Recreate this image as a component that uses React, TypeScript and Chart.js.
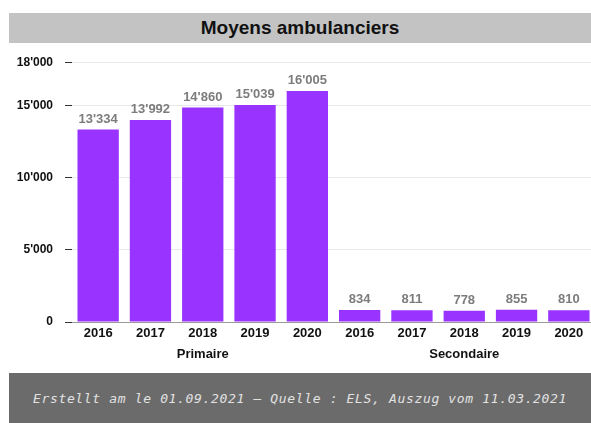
import React, { useEffect, useRef } from 'react';
import { Chart, registerables } from 'chart.js';

Chart.register(...registerables);

const title = 'Moyens ambulanciers';
const footerText = 'Erstellt am le 01.09.2021 – Quelle : ELS, Auszug vom 11.03.2021';
const categories = ['2016', '2017', '2018', '2019', '2020', '2016', '2017', '2018', '2019', '2020'];
const groupLabels = ['', '', 'Primaire', '', '', '', '', 'Secondaire', '', ''];
const values = [13334, 13992, 14860, 15039, 16005, 834, 811, 778, 855, 810];
const yTicks = [0, 5000, 10000, 15000, 18000];

const fmt = (n: number) => String(n).replace(/\B(?=(\d{3})+(?!\d))/g, "'");

const FONT = '"Liberation Sans", Arial, sans-serif';

const dataLabelPlugin = {
  id: 'dataLabels',
  afterDatasetsDraw(chart: any) {
    const ctx = chart.ctx;
    const meta = chart.getDatasetMeta(0);
    ctx.save();
    ctx.font = `bold 13px ${FONT}`;
    ctx.fillStyle = '#7c7c7c';
    ctx.textAlign = 'center';
    ctx.textBaseline = 'bottom';
    meta.data.forEach((bar: any, i: number) => {
      ctx.fillText(fmt(values[i]), bar.x, bar.y - 4);
    });
    ctx.restore();
  },
};

export default function App() {
  const ref = useRef<HTMLCanvasElement>(null);

  useEffect(() => {
    document.documentElement.style.overflow = 'hidden';
    document.body.style.overflow = 'hidden';
    if (!ref.current) return;
    const chart = new Chart(ref.current, {
      type: 'bar',
      data: {
        labels: categories,
        datasets: [
          {
            data: values,
            backgroundColor: '#9933ff',
            barPercentage: 0.79,
            categoryPercentage: 1,
          },
        ],
      },
      options: {
        responsive: false,
        animation: false,
        layout: { padding: { top: 19, left: 0, right: 0, bottom: 0 } },
        plugins: {
          legend: { display: false },
          tooltip: { enabled: false },
          title: { display: false },
        },
        scales: {
          x: {
            type: 'category',
            position: 'bottom',
            grid: { display: false, drawTicks: false, tickLength: 0 },
            border: { display: true, color: '#9a9a9a', width: 1 },
            ticks: {
              color: '#111',
              font: { family: FONT, size: 13, weight: 'bold' },
              padding: 4,
              maxRotation: 0,
              autoSkip: false,
            },
            afterFit: (s: any) => {
              s.height = 20;
            },
          },
          x2: {
            type: 'category',
            position: 'bottom',
            labels: groupLabels,
            grid: { display: false, drawTicks: false, tickLength: 0 },
            border: { display: false },
            ticks: {
              color: '#111',
              font: { family: FONT, size: 13, weight: 'bold' },
              padding: 5,
              maxRotation: 0,
              autoSkip: false,
            },
            afterFit: (s: any) => {
              s.height = 31;
            },
          },
          y: {
            min: 0,
            max: 18000,
            afterBuildTicks: (s: any) => {
              s.ticks = yTicks.map((v) => ({ value: v }));
            },
            afterFit: (s: any) => {
              s.width = 63;
            },
            border: { display: false },
            grid: {
              color: '#e8e8e8',
              tickColor: '#333',
              tickLength: 7,
              drawTicks: true,
            },
            ticks: {
              color: '#111',
              font: { family: FONT, size: 12, weight: 'bold' },
              padding: 12,
              callback: (v: any) => fmt(Number(v)),
            },
          },
        },
      },
      plugins: [dataLabelPlugin],
    } as any);
    return () => chart.destroy();
  }, []);

  return (
    <div
      style={{
        position: 'absolute',
        left: 9,
        top: 13,
        width: 582,
        height: 410,
        overflow: 'hidden',
      }}
    >
      <div
        style={{
          height: 30,
          background: '#c3c3c3',
          display: 'flex',
          alignItems: 'center',
          justifyContent: 'center',
          fontFamily: FONT,
          fontWeight: 'bold',
          fontSize: 19,
          color: '#111',
        }}
      >
        {title}
      </div>
      <div style={{ height: 330, width: 582, overflow: 'hidden' }}>
        <canvas ref={ref} width={586} height={330} style={{ display: 'block' }} />
      </div>
      <div
        style={{
          height: 50,
          background: '#6b6b6b',
          display: 'flex',
          alignItems: 'center',
          justifyContent: 'center',
          fontFamily: '"DejaVu Sans Mono", monospace',
          fontStyle: 'italic',
          fontSize: 13,
          letterSpacing: 0.65,
          color: '#e2e2e2',
          whiteSpace: 'nowrap',
        }}
      >
        {footerText}
      </div>
    </div>
  );
}
